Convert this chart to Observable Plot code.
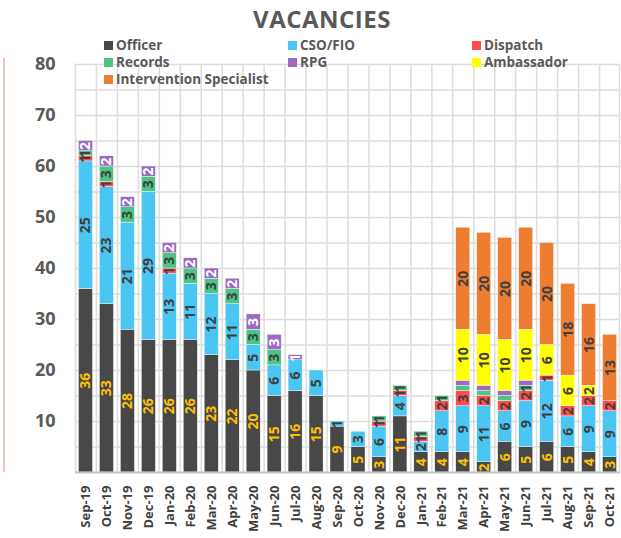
<!DOCTYPE html>
<html>
<head>
<meta charset="utf-8">
<script src="https://cdn.jsdelivr.net/npm/d3@7"></script>
<script src="https://cdn.jsdelivr.net/npm/@observablehq/plot@0.6"></script>
<style>
  body { margin: 0; background: #fff; }
  #wrap { position: relative; width: 621px; height: 538px; font-family: "Open Sans", "Noto Sans", sans-serif; }
  #title { position: absolute; left: 22px; width: 600px; top: 2px; text-align: center; font-size: 24px; font-weight: 700; color: #595959; letter-spacing: 0.5px; }
  .leg { position: absolute; font-size: 13.5px; font-weight: 700; color: #595959; line-height: 14px; height: 14px; white-space: nowrap; }
  .leg span { display: inline-block; width: 9px; height: 9px; margin-right: 3px; vertical-align: 0px; }
  #edge { position: absolute; left: 0; top: 58px; width: 3px; height: 414px; border-right: 2px solid #f6c3c3; }
  #chart { position: absolute; left: 0; top: 0; }
</style>
</head>
<body>
<div id="wrap">
  <div id="chart"></div>
  <div id="edge"></div>
  <div id="title">VACANCIES</div>
</div>
<script>
const months = ["Sep-19","Oct-19","Nov-19","Dec-19","Jan-20","Feb-20","Mar-20","Apr-20","May-20","Jun-20","Jul-20","Aug-20","Sep-20","Oct-20","Nov-20","Dec-20","Jan-21","Feb-21","Mar-21","Apr-21","May-21","Jun-21","Jul-21","Aug-21","Sep-21","Oct-21"];
const officer      = [36,33,28,26,26,26,23,22,20,15,16,15, 9, 5, 3,11, 4, 4, 4, 2, 6, 5, 6, 5, 4, 3];
const csoFio       = [25,23,21,29,13,11,12,11, 5, 6, 6, 5, 1, 3, 6, 4, 2, 8, 9,11, 6, 9,12, 6, 9, 9];
const dispatch     = [ 1, 1, 0, 0, 1, 0, 0, 0, 0, 0, 0, 0, 0, 0, 1, 1, 1, 2, 3, 2, 2, 2, 1, 2, 2, 2];
const records      = [ 1, 3, 3, 3, 3, 3, 3, 3, 3, 3, 0, 0, 0, 0, 1, 1, 1, 1, 1, 1, 1, 1, 0, 0, 0, 0];
const rpg          = [ 2, 2, 2, 2, 2, 2, 2, 2, 3, 3, 1, 0, 0, 0, 0, 0, 0, 0, 1, 1, 1, 1, 0, 0, 0, 0];
const ambassador   = [ 0, 0, 0, 0, 0, 0, 0, 0, 0, 0, 0, 0, 0, 0, 0, 0, 0, 0,10,10,10,10, 6, 6, 2, 0];
const intervention = [ 0, 0, 0, 0, 0, 0, 0, 0, 0, 0, 0, 0, 0, 0, 0, 0, 0, 0,20,20,20,20,20,18,16,13];
const seriesNames  = ["Officer","CSO/FIO","Dispatch","Records","RPG","Ambassador","Intervention Specialist"];
const seriesColors = ["#484848","#4BC6F2","#FF4D4D","#4CC584","#9B6BC2","#FFFF00","#ED7D31"];
const yTicks = [10,20,30,40,50,60,70,80];
// labels the reference leaves out (tiny segments)
const hiddenLabels = ["Mar-21|Records","Mar-21|RPG","Apr-21|Records","Apr-21|RPG","May-21|Records","May-21|RPG","Jun-21|RPG"];

const seriesValues = [officer, csoFio, dispatch, records, rpg, ambassador, intervention];
const data = [];
months.forEach((m, i) => {
  seriesNames.forEach((s, k) => data.push({month: m, series: s, value: seriesValues[k][i]}));
});

const W = 621, H = 538, mL = 75, mR = 1, mT = 64, mB = 66;
const step = (W - mL - mR) / months.length;

function labelText(filterFn) {
  return d => (filterFn(d.series) && d.value > 0 && !hiddenLabels.includes(d.month + "|" + d.series)) ? String(d.value) : "";
}
const txtOpts = {x: "month", y: "value", z: "series", rotate: -90, fontSize: 14, fontWeight: 700, fontFamily: "Open Sans"};

const chart = Plot.plot({
  width: W, height: H,
  marginLeft: mL, marginRight: mR, marginTop: mT, marginBottom: mB,
  style: {fontFamily: "Open Sans, Noto Sans, sans-serif", background: "white"},
  x: {domain: months, paddingInner: 0.33, paddingOuter: 0.165, round: false, label: null},
  y: {domain: [0, 80], label: null},
  color: {domain: seriesNames, range: seriesColors},
  marks: [
    Plot.gridY(d3.range(5, 85, 5), {stroke: "#dcdcdc", strokeOpacity: 1, strokeWidth: 1.5}),
    Plot.ruleX(months, {x: d => d, dx: -step / 2, y1: 0, y2: 80, stroke: "#dcdcdc", strokeWidth: 1.5}),
    Plot.ruleX([months[months.length - 1]], {dx: step / 2 - 1, y1: 0, y2: 80, stroke: "#dcdcdc", strokeWidth: 1.5}),
    Plot.barY(data, Plot.stackY({x: "month", y: "value", z: "series", fill: "series", stroke: "white", strokeWidth: 0.4})),
    Plot.ruleY([0], {stroke: "#c4c4c4", strokeWidth: 2}),
    Plot.text(data, Plot.stackY({...txtOpts, text: labelText(s => s === "Officer"), fill: "#FFC000"})),
    Plot.text(data, Plot.stackY({...txtOpts, text: labelText(s => s === "RPG"), fill: "white"})),
    Plot.text(data, Plot.stackY({...txtOpts, text: labelText(s => s !== "Officer" && s !== "RPG"), fill: "#404040"})),
    Plot.axisY({ticks: yTicks, tickSize: 0, tickPadding: 20, fontSize: 18, fontWeight: 700, fill: "#595959", label: null}),
    Plot.axisX({tickSize: 0, tickRotate: -90, tickPadding: 13, fontSize: 13, fontWeight: 700, fill: "#404040", label: null})
  ]
});
document.getElementById("chart").appendChild(chart);

const wrap = document.getElementById("wrap");
seriesNames.forEach((s, i) => {
  const col = i % 3, row = Math.floor(i / 3);
  const el = document.createElement("div");
  el.className = "leg";
  el.style.left = (104 + col * 184) + "px";
  el.style.top = (38 + row * 17) + "px";
  el.innerHTML = `<span style="background:${seriesColors[i]}"></span>${s}`;
  wrap.appendChild(el);
});
</script>
</body>
</html>
